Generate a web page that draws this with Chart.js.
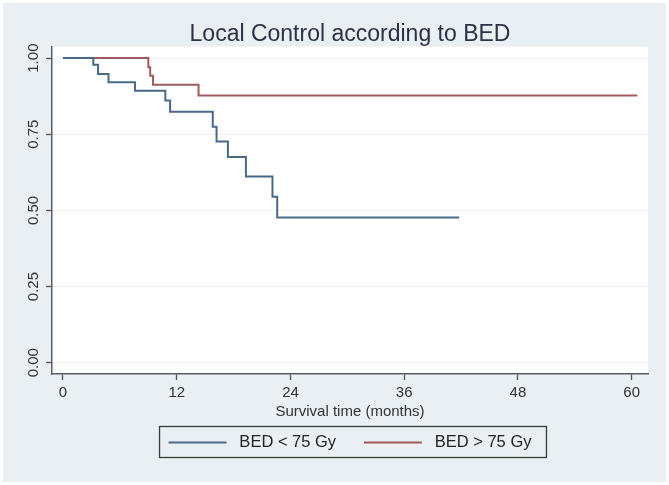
<!DOCTYPE html>
<html>
<head>
<meta charset="utf-8">
<script src="https://cdn.jsdelivr.net/npm/chart.js@4"></script>
<style>
  html, body { margin: 0; padding: 0; background: #fff; }
  #km { display: block; }
</style>
</head>
<body>
<canvas id="km" width="669" height="485"></canvas>
<script>
// Kaplan-Meier estimates
const lowTimes = [0, 3.2, 3.7, 4.8, 7.6, 10.8, 11.3, 15.8, 16.2, 17.4, 19.3, 22.1, 22.6, 41.8];
const lowSurv = [1, 0.978, 0.948, 0.921, 0.893, 0.861, 0.824, 0.775, 0.726, 0.675, 0.611, 0.545, 0.477, 0.477];
const highTimes = [0, 9.0, 9.2, 9.5, 14.3, 60.6];
const highSurv = [1, 0.970, 0.942, 0.913, 0.877, 0.877];
const seriesNames = ['BED < 75 Gy', 'BED > 75 Gy'];
const xTicks = [0, 12, 24, 36, 48, 60];
const yTicks = [0, 0.25, 0.5, 0.75, 1];

Chart.defaults.font.family = "'Liberation Sans', Arial, sans-serif";

function toPoints(xs, ys) {
  return xs.map((x, i) => ({ x: x, y: ys[i] }));
}

// gray graph region, white plot region
const background = {
  id: 'background',
  beforeDraw(chart) {
    const ctx = chart.ctx, a = chart.chartArea;
    ctx.save();
    ctx.fillStyle = '#ffffff';
    ctx.fillRect(0, 0, chart.width, chart.height);
    ctx.fillStyle = '#e9eff2';
    ctx.fillRect(3, 3, chart.width - 6, chart.height - 6);
    ctx.fillStyle = '#ffffff';
    ctx.fillRect(a.left, a.top, a.right - a.left, a.bottom - a.top);
    ctx.restore();
  }
};

// frame around the legend
const legendFrame = {
  id: 'legendFrame',
  afterDraw(chart) {
    const hb = chart.legend.legendHitBoxes;
    if (!hb || !hb.length) return;
    const ctx = chart.ctx;
    const first = hb[0], last = hb[hb.length - 1];
    const cy = first.top + first.height / 2;
    const left = first.left - 9, right = last.left + last.width + 15;
    ctx.save();
    ctx.globalCompositeOperation = 'destination-over';
    ctx.fillStyle = '#ffffff';
    ctx.fillRect(left, cy - 16, right - left, 31);
    ctx.globalCompositeOperation = 'source-over';
    ctx.strokeStyle = '#3a3a3a';
    ctx.lineWidth = 1.3;
    ctx.strokeRect(left, cy - 16, right - left, 31);
    ctx.restore();
  }
};

const ctx = document.getElementById('km').getContext('2d');
new Chart(ctx, {
  type: 'line',
  data: {
    datasets: [{
      label: seriesNames[0],
      data: toPoints(lowTimes, lowSurv),
      borderColor: '#4a6888',
      backgroundColor: '#4a6888',
      borderWidth: 2,
      pointRadius: 0,
      stepped: 'before',
      yAxisID: 'y',
    }, {
      label: seriesNames[1],
      data: toPoints(highTimes, highSurv),
      borderColor: '#a05a5c',
      backgroundColor: '#a05a5c',
      borderWidth: 2,
      pointRadius: 0,
      stepped: 'before',
      yAxisID: 'y',
    }],
  },
  options: {
    responsive: false,
    animation: false,
    events: [],
    layout: { padding: { left: 21, right: -10, top: 4, bottom: 24.25 } },
    scales: {
      x: {
        type: 'linear',
        min: -1.16,
        max: 61.72,
        afterBuildTicks: (axis) => { axis.ticks = xTicks.map(v => ({ value: v })); },
        afterFit: (axis) => { axis.height = 46.25; },
        ticks: {
          color: '#333',
          font: { size: 15, lineHeight: 1 },
          padding: 5.5,
          maxRotation: 0,
          autoSkip: false,
        },
        grid: { drawOnChartArea: false, tickLength: 6, tickColor: '#555', tickWidth: 1.3 },
        border: { color: '#5a5e62', width: 1.5 },
        title: {
          display: true,
          text: 'Survival time (months)',
          color: '#333',
          font: { size: 15, lineHeight: 0.8 },
          padding: { top: 0, bottom: 2 },
        },
      },
      y: {
        type: 'linear',
        position: 'left',
        min: -0.037,
        max: 1.038,
        afterBuildTicks: (axis) => { axis.ticks = yTicks.map(v => ({ value: v })); },
        afterFit: (axis) => { axis.width = 31; },
        ticks: {
          color: '#333',
          font: { size: 15, lineHeight: 1 },
          minRotation: 90,
          maxRotation: 90,
          crossAlign: 'center',
          padding: -2,
          autoSkip: false,
          callback: (v) => Number(v).toFixed(2),
        },
        grid: { color: '#eef2f5', lineWidth: 1, tickLength: 6, tickColor: '#555', tickWidth: 1.3 },
        border: { color: '#5a5e62', width: 1.5 },
      },
      y2: {
        type: 'linear',
        position: 'right',
        display: true,
        min: 0,
        max: 1,
        afterFit: (axis) => { axis.width = 31; },
        ticks: { display: false },
        grid: { display: false },
        border: { display: false },
      },
    },
    plugins: {
      title: {
        display: true,
        text: 'Local Control according to BED',
        color: '#2b3245',
        font: { size: 23, weight: 'normal', lineHeight: 0.85 },
        padding: { top: 21, bottom: 2 },
      },
      legend: {
        position: 'bottom',
        labels: {
          color: '#222',
          font: { size: 16.5 },
          usePointStyle: true,
          pointStyle: 'line',
          pointStyleWidth: 58,
          padding: 14,
          generateLabels: (chart) => {
            const items = Chart.defaults.plugins.legend.labels.generateLabels(chart);
            return items.map((it, i) => {
              it.text = ' ' + it.text + (i < items.length - 1 ? '   ' : '');
              return it;
            });
          },
        },
      },
      tooltip: { enabled: false },
    },
  },
  plugins: [background, legendFrame],
});
</script>
</body>
</html>
